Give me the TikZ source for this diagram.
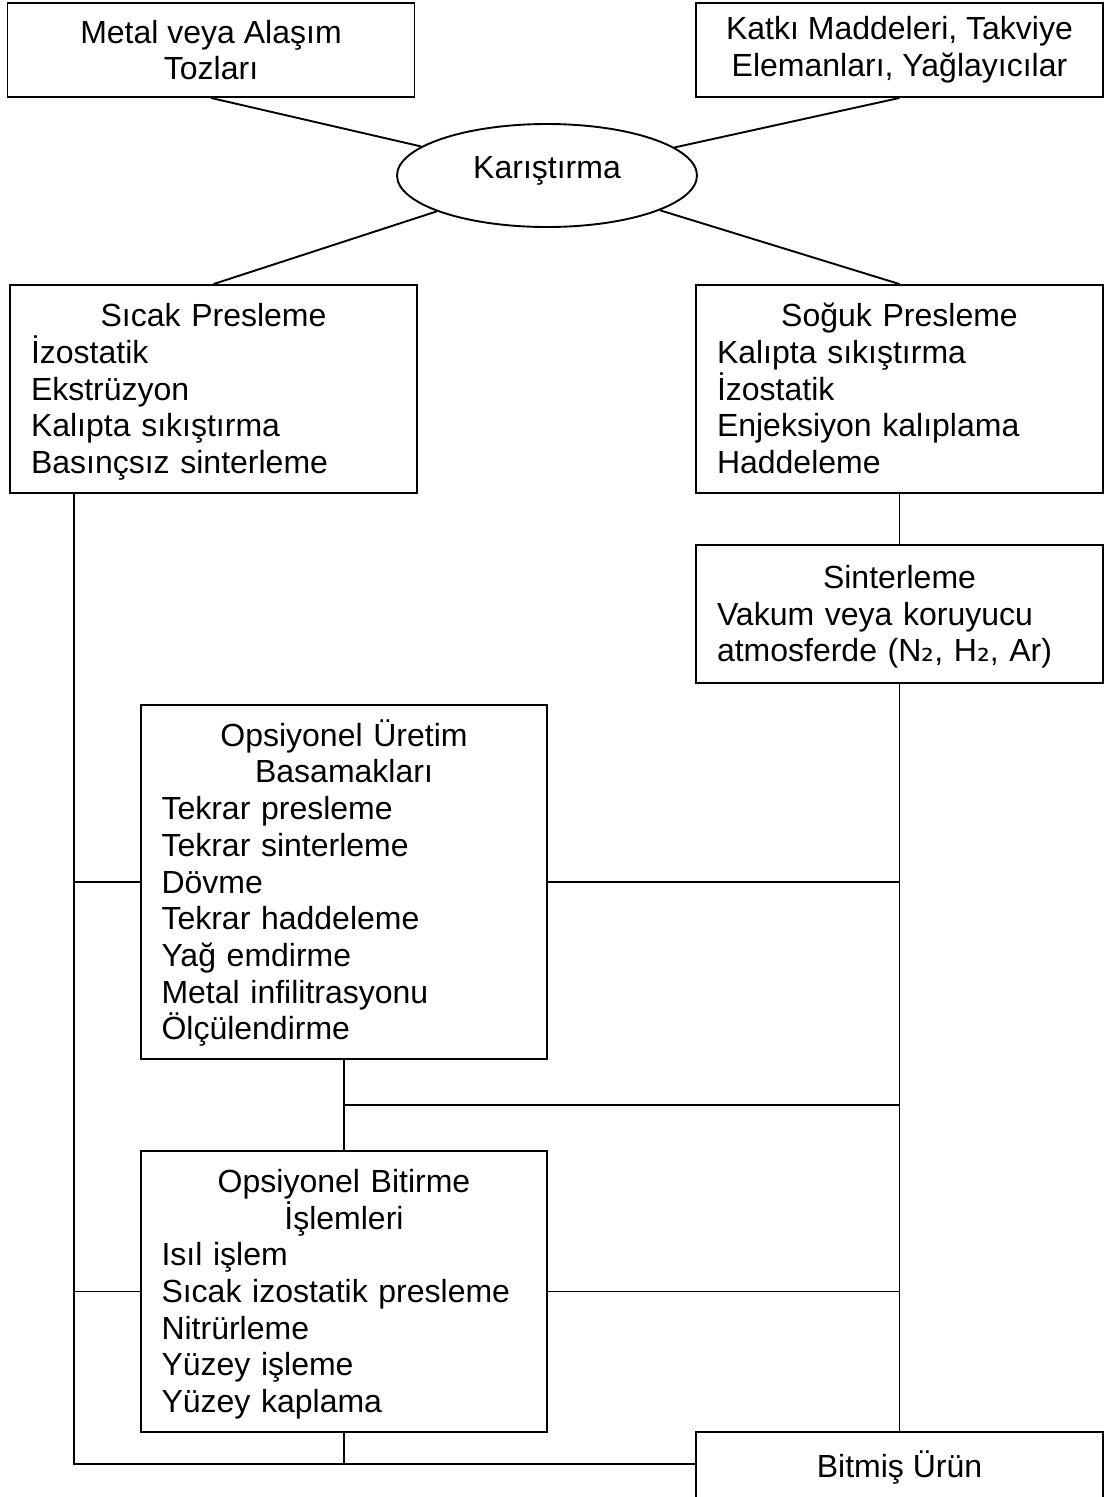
\documentclass[tikz,border=0pt]{standalone}
\usepackage{fontspec}
\setmainfont{Liberation Sans}
\newfontfamily\subfont{DejaVu Sans}
\usetikzlibrary{shapes.geometric,calc}
\setlength{\parindent}{0pt}
\setlength{\lineskiplimit}{-50pt}
\newcommand{\bhead}[1]{{\centering\rule{0pt}{33pt}#1\par}}
\newcommand{\alt}{{\subfont ₂}}

\begin{document}
\begin{tikzpicture}[x=1pt, y=-1pt, line width=1.9pt,
	every node/.style={font=\fontsize{32}{36.7}\selectfont},
	kutu/.style={draw, rectangle, minimum width=407, minimum height=94, inner sep=0pt, align=center},
	liste/.style={kutu, text width=365, align=left, execute at end node=\strut}]
	\useasboundingbox (0,0) rectangle (1105,1497);
	\node[kutu] (metal) at (211,50) {Metal veya Alaşım\\Tozları};
	\node[kutu] (katki) at (899.5,50) {Katkı Maddeleri, Takviye\\Elemanları, Yağlayıcılar};
	\node[draw, ellipse, minimum width=300, minimum height=103, inner sep=0pt, text height=23pt, text depth=17pt] (mix) at (547,175.5) {Karıştırma};
	\node[liste, minimum height=208] (sicak) at (213.5,389) {\bhead{Sıcak Presleme}İzostatik\\Ekstrüzyon\\Kalıpta sıkıştırma\\Basınçsız sinterleme};
	\node[liste, minimum height=208] (soguk) at (899.5,389) {\bhead{Soğuk Presleme}Kalıpta sıkıştırma\\İzostatik\\Enjeksiyon kalıplama\\Haddeleme};
	\node[liste, minimum height=138] (sinter) at (899.5,614) {\bhead{Sinterleme}Vakum veya koruyucu\\atmosferde (N\alt, H\alt, Ar)};
	\node[liste, minimum width=406, minimum height=354] (uretim) at (344,882) {\bhead{Opsiyonel Üretim\\Basamakları}Tekrar presleme\\Tekrar sinterleme\\Dövme\\Tekrar haddeleme\\Yağ emdirme\\Metal infilitrasyonu\\Ölçülendirme};
	\node[liste, minimum width=406, minimum height=281] (bitirme) at (344,1291.5) {\bhead{Opsiyonel Bitirme\\İşlemleri}Isıl işlem\\Sıcak izostatik presleme\\Nitrürleme\\Yüzey işleme\\Yüzey kaplama};
	\node[kutu, minimum height=70] (bitmis) at (899.5,1467) {Bitmiş Ürün};
	% connectors
	\draw (metal.south) -- (mix); \draw (katki.south) -- (mix);
	\draw (sicak.north) -- (mix); \draw (soguk.north) -- (mix);
	\draw (soguk.south) -- (sinter.north); \draw (sinter.south) -- (bitmis.north);
	\coordinate (lspine) at (74,1464);
	\coordinate (ara) at ($(uretim.south)!0.5!(bitirme.north)$);
	\draw (sicak.south -| lspine) -- (lspine) -- (bitmis.west |- lspine);
	\draw (uretim.west) -- (uretim.west -| lspine); \draw (bitirme.west) -- (bitirme.west -| lspine);
	\draw (uretim.east) -- (uretim.east -| sinter.south); \draw (bitirme.east) -- (bitirme.east -| sinter.south);
	\draw (uretim.south) -- (bitirme.north); \draw (ara) -- (ara -| sinter.south);
	\draw (bitirme.south) -- (bitirme.south |- lspine);
\end{tikzpicture}
\end{document}
